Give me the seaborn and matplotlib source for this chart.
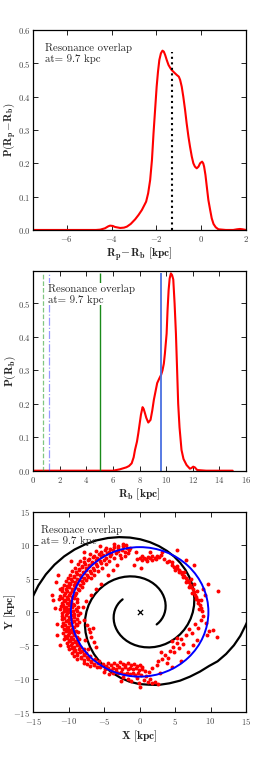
import numpy as np
import pandas as pd
import seaborn as sns
import matplotlib.pyplot as plt
from matplotlib.patches import Circle

# ---- panel 1: P(Rp - Rb) ----
dr_x = [-7.5, -4.7, -4.51, -4.3, -4.15, -4.07, -3.95, -3.85, -3.62, -3.45, -3.32, -3.15,
        -2.95, -2.8, -2.65, -2.46, -2.37, -2.28, -2.2, -2.13, -2.06, -1.99, -1.93, -1.87,
        -1.8, -1.73, -1.67, -1.61, -1.54, -1.46, -1.39, -1.32, -1.2, -1.09, -1.0, -0.94,
        -0.87, -0.80, -0.72, -0.65, -0.57, -0.50, -0.42, -0.35, -0.28, -0.20, -0.12, -0.05,
        0.0, 0.04, 0.09, 0.13, 0.19, 0.25, 0.32, 0.40, 0.47, 0.55, 0.65, 0.77, 1.1, 1.43,
        1.6, 1.73, 1.85, 2.0]
dr_p = [0.0, 0.0, 0.001, 0.005, 0.011, 0.013, 0.012, 0.009, 0.006, 0.007, 0.01, 0.018,
        0.032, 0.045, 0.06, 0.085, 0.11, 0.15, 0.21, 0.29, 0.36, 0.43, 0.475, 0.51,
        0.53, 0.538, 0.535, 0.525, 0.51, 0.495, 0.487, 0.48, 0.472, 0.465, 0.46, 0.45,
        0.43, 0.40, 0.36, 0.32, 0.28, 0.25, 0.22, 0.20, 0.19, 0.185, 0.19, 0.20,
        0.203, 0.205, 0.20, 0.19, 0.165, 0.13, 0.09, 0.06, 0.035, 0.018, 0.008, 0.002,
        0.0, 0.0, 0.002, 0.003, 0.002, 0.0]
dr_mark = -1.32
dr_mark_top = 0.535

# ---- panel 2: P(Rb) ----
rb_x = [0.0, 3.0, 6.0, 6.5, 7.0, 7.2, 7.4, 7.55, 7.65, 7.8, 7.9, 8.0, 8.1, 8.22, 8.3, 8.4,
        8.5, 8.65, 8.82, 8.95, 9.07, 9.2, 9.32, 9.47, 9.62, 9.72, 9.82, 9.9, 10.03, 10.1,
        10.18, 10.26, 10.35, 10.44, 10.53, 10.63, 10.73, 10.82, 10.9, 11.0, 11.15, 11.3,
        11.53, 11.78, 11.9, 12.03, 12.15, 12.33, 13.0, 15.0]
rb_p = [0.0, 0.0, 0.0, 0.004, 0.01, 0.014, 0.022, 0.04, 0.062, 0.087, 0.112, 0.14, 0.168,
        0.19, 0.185, 0.172, 0.158, 0.144, 0.152, 0.18, 0.212, 0.238, 0.262, 0.275, 0.287,
        0.30, 0.32, 0.35, 0.41, 0.48, 0.54, 0.575, 0.59, 0.585, 0.572, 0.5, 0.41, 0.3,
        0.2, 0.13, 0.062, 0.035, 0.017, 0.006, 0.008, 0.012, 0.01, 0.002, 0.0, 0.0]
rb_lines = [0.7, 1.2, 5.0, 9.6]
rb_line_top = 0.592

# ---- panel 3: spiral arms, circle and particles ----
arm1_x = [-2.403, -2.711, -2.987, -3.225, -3.419, -3.561, -3.647, -3.668, -3.624, -3.510,
          -3.321, -3.060, -2.724, -2.316, -1.839, -1.298, -0.697, -0.045, 0.650, 1.377,
          2.124, 2.880, 3.631, 4.362, 5.059, 5.706, 6.287, 6.789, 7.197, 7.496,
          7.674, 7.721, 7.627, 7.385, 6.990, 6.440, 5.733, 4.875, 3.871, 2.731,
          1.467, 0.095, -1.367, -2.897, -4.471, -6.061, -7.641, -9.180, -10.645, -12.006,
          -13.230, -14.286, -15.145, -15.774]
arm1_y = [1.878, 1.597, 1.268, 0.894, 0.481, 0.031, -0.448, -0.949, -1.464, -1.985,
          -2.503, -3.007, -3.487, -3.932, -4.334, -4.679, -4.960, -5.167, -5.290, -5.323,
          -5.258, -5.091, -4.819, -4.440, -3.953, -3.361, -2.669, -1.882, -1.012, -0.065,
          0.943, 1.997, 3.081, 4.178, 5.268, 6.328, 7.338, 8.277, 9.120, 9.848,
          10.440, 10.874, 11.132, 11.200, 11.065, 10.714, 10.140, 9.342, 8.317, 7.072,
          5.616, 3.962, 2.129, 0.137]
arm2_x = [2.403, 2.711, 2.987, 3.225, 3.419, 3.561, 3.647, 3.668, 3.624, 3.510,
          3.321, 3.060, 2.724, 2.316, 1.839, 1.298, 0.697, 0.045, -0.650, -1.377,
          -2.124, -2.880, -3.631, -4.362, -5.059, -5.706, -6.287, -6.789, -7.197, -7.496,
          -7.674, -7.721, -7.627, -7.385, -6.990, -6.440, -5.733, -4.875, -3.871, -2.731,
          -1.467, -0.095, 1.2, 2.6, 4.2, 5.7, 7.1, 8.5, 9.8, 11.0,
          12.2, 13.3, 14.2, 15.0, 15.6]
arm2_y = [-1.878, -1.597, -1.268, -0.894, -0.481, -0.031, 0.448, 0.949, 1.464, 1.985,
          2.503, 3.007, 3.487, 3.932, 4.334, 4.679, 4.960, 5.167, 5.290, 5.323,
          5.258, 5.091, 4.819, 4.440, 3.953, 3.361, 2.669, 1.882, 1.012, 0.065,
          -0.943, -1.997, -3.081, -4.178, -5.268, -6.328, -7.338, -8.277, -9.120, -9.848,
          -10.440, -10.80, -10.9, -10.95, -10.7, -10.3, -9.7, -8.95, -8.1, -7.4,
          -6.3, -5.0, -3.6, -1.9, -0.5]
overlap_r = 9.7

band_left = [
    (-11.0, 3.1), (-10.5, 2.9), (-10.2, 3.2), (-9.8, 2.8), (-9.5, 3.1), (-9.0, 2.9), (-8.6, 3.3),
    (-11.2, 2.4), (-10.7, 2.6), (-10.3, 2.3), (-10.0, 2.5), (-9.6, 2.2), (-9.1, 2.6),
    (-11.4, 1.9), (-10.9, 2.1), (-10.5, 1.8), (-10.1, 2.0), (-9.7, 1.7), (-9.3, 2.1), (-8.8, 1.9),
    (-11.0, 1.4), (-10.6, 1.6), (-10.2, 1.3), (-9.8, 1.5), (-9.4, 1.2), (-8.9, 1.5),
    (-11.1, 0.9), (-10.8, 1.1), (-10.4, 0.8), (-10.0, 1.0), (-9.6, 0.7), (-9.2, 1.0), (-8.7, 0.8),
    (-11.2, 0.4), (-10.7, 0.6), (-10.3, 0.3), (-9.9, 0.5), (-9.4, 0.2), (-9.0, 0.5),
    (-11.0, -0.1), (-10.6, 0.1), (-10.2, -0.2), (-9.8, 0.0), (-9.3, -0.3), (-8.8, 0.1), (-8.4, -0.1),
    (-10.9, -0.6), (-10.4, -0.4), (-10.0, -0.7), (-9.6, -0.5), (-9.2, -0.8), (-8.7, -0.5),
    (-11.0, -1.1), (-10.6, -0.9), (-10.1, -1.2), (-9.7, -1.0), (-9.3, -1.3), (-8.9, -1.0),
    (-10.8, -1.6), (-10.4, -1.4), (-10.0, -1.7), (-9.5, -1.5), (-9.0, -1.8), (-8.6, -1.5),
    (-10.9, -2.1), (-10.5, -1.9), (-10.1, -2.2), (-9.7, -2.0), (-9.2, -2.3), (-8.8, -2.0),
    (-10.7, -2.6), (-10.3, -2.4), (-9.9, -2.7), (-9.5, -2.5), (-9.0, -2.8),
    (-10.8, -3.1), (-10.4, -2.9), (-10.0, -3.2), (-9.6, -3.0), (-9.2, -3.3), (-8.7, -3.0),
    (-10.5, -3.6), (-10.1, -3.4), (-9.7, -3.7), (-9.3, -3.5), (-8.9, -3.8),
    (-10.6, -4.1), (-10.2, -3.9), (-9.8, -4.2), (-9.4, -4.0), (-9.0, -4.3), (-8.5, -4.0),
    (-10.3, -4.6), (-9.9, -4.4), (-9.5, -4.7), (-9.1, -4.5), (-8.7, -4.8),
    (-10.1, -5.1), (-9.7, -4.9), (-9.3, -5.2), (-8.9, -5.0), (-8.4, -5.3),
    (-9.9, -5.6), (-9.5, -5.4), (-9.1, -5.7), (-8.6, -5.5), (-8.2, -5.8), (-7.8, -5.6),
    (-9.6, -6.1), (-9.2, -5.9), (-8.8, -6.2), (-8.4, -6.0), (-7.9, -6.3), (-7.5, -6.1),
    (-9.2, -6.6), (-8.8, -6.4), (-8.3, -6.7), (-7.9, -6.5), (-7.4, -6.8), (-7.0, -6.6),
    (-8.8, -7.1), (-8.3, -6.9), (-7.8, -7.2), (-7.3, -7.0), (-6.8, -7.3), (-6.3, -7.1), (-5.8, -7.4),
    (-7.9, -7.6), (-7.4, -7.8), (-6.9, -7.5), (-6.4, -7.8), (-5.9, -7.6),
    (-7.0, -8.1), (-6.5, -8.0), (-6.0, -8.2),
]
band_top = [
    (-10.9, 3.6), (-10.4, 3.4), (-10.0, 3.7), (-9.6, 3.5), (-9.1, 3.8), (-8.7, 3.5), (-8.2, 3.7),
    (-10.7, 4.1), (-10.2, 3.9), (-9.8, 4.2), (-9.3, 4.0), (-8.9, 4.3), (-8.4, 4.1), (-8.0, 4.3),
    (-10.4, 4.6), (-10.0, 4.4), (-9.5, 4.7), (-9.1, 4.5), (-8.6, 4.8), (-8.1, 4.6), (-7.6, 4.8),
    (-10.1, 5.1), (-9.7, 4.9), (-9.2, 5.2), (-8.8, 5.0), (-8.3, 5.3), (-7.8, 5.1), (-7.3, 5.3), (-6.8, 5.1),
    (-9.8, 5.6), (-9.3, 5.4), (-8.9, 5.7), (-8.4, 5.5), (-7.9, 5.8), (-7.4, 5.6), (-6.9, 5.8), (-6.4, 5.6),
    (-9.5, 6.1), (-9.0, 5.9), (-8.5, 6.2), (-8.0, 6.0), (-7.5, 6.3), (-7.0, 6.1), (-6.5, 6.3), (-5.9, 6.1),
    (-9.1, 6.6), (-8.6, 6.4), (-8.1, 6.7), (-7.6, 6.5), (-7.1, 6.8), (-6.6, 6.6), (-6.0, 6.8), (-5.3, 6.6),
    (-8.7, 7.1), (-8.2, 6.9), (-7.7, 7.2), (-7.2, 7.0), (-6.7, 7.3), (-6.1, 7.1), (-5.5, 7.3), (-4.8, 7.1),
    (-8.4, 7.6), (-7.8, 7.4), (-7.3, 7.7), (-6.7, 7.5), (-6.2, 7.8), (-5.6, 7.6), (-5.0, 7.8), (-4.3, 7.6),
    (-7.8, 8.1), (-7.2, 7.9), (-6.6, 8.2), (-6.0, 8.0), (-5.4, 8.3), (-4.8, 8.1), (-4.2, 8.3), (-3.6, 8.1),
    (-7.0, 8.6), (-6.4, 8.4), (-5.8, 8.7), (-5.2, 8.5), (-4.6, 8.8), (-4.0, 8.6), (-3.3, 8.8), (-2.7, 8.5),
    (-6.1, 9.1), (-5.5, 8.9), (-4.9, 9.2), (-4.3, 9.0), (-3.7, 9.3), (-3.1, 9.1), (-2.5, 9.2), (-2.1, 8.9),
    (-4.8, 9.6), (-4.2, 9.4), (-3.6, 9.7), (-3.0, 9.5), (-2.4, 9.8), (-1.8, 9.5),
    (-3.6, 10.1), (-3.0, 9.9), (-2.4, 10.2), (-1.9, 10.0),
    (-1.5, 9.3), (-1.7, 8.8), (-2.1, 8.4), (-2.6, 8.1), (-1.3, 9.6),
]
sparse_left = [
    (-12.2, 1.8), (-11.2, 3.5), (-11.8, 4.5), (-11.6, -1.8), (-11.5, 5.6), (-9.7, 7.6),
    (-7.8, 8.9), (-5.6, 9.8), (-11.9, 0.6), (-12.3, 2.6), (-11.7, -3.4), (-11.3, -5.0),
    (-7.4, -2.0), (-7.0, -3.0), (-6.8, -3.8), (-6.5, -4.5), (-6.2, -5.2), (-7.2, -2.6),
    (-7.9, -1.2), (-8.0, 0.8), (-7.6, 1.6), (-6.9, 2.5), (-6.2, 3.5), (-5.5, 4.2),
    (-4.5, 5.5), (-3.8, 6.2), (-3.2, 7.0), (-7.7, -4.2), (-6.6, -2.4), (-7.3, -5.6),
]
bottom = [
    (-5.2, -7.8), (-4.8, -8.1), (-4.4, -7.7), (-4.0, -8.0), (-3.6, -7.6), (-3.2, -7.9),
    (-2.8, -7.5), (-2.4, -7.8), (-2.0, -8.0), (-1.6, -7.7), (-1.2, -8.0), (-0.8, -7.8),
    (-0.4, -8.1), (0.0, -7.9), (0.4, -8.2),
    (-4.9, -8.6), (-4.5, -8.4), (-4.1, -8.7), (-3.7, -8.4), (-3.3, -8.6), (-2.9, -8.3),
    (-2.5, -8.5), (-2.1, -8.3), (-1.7, -8.6), (-1.3, -8.4), (-0.9, -8.6), (-0.5, -8.4),
    (-0.1, -8.7), (0.3, -8.5), (0.7, -8.8),
    (-3.8, -9.1), (-3.4, -8.9), (-3.0, -9.2), (-2.6, -9.0), (-2.2, -9.3), (-1.8, -9.1),
    (-1.4, -9.3), (-1.0, -9.1), (-0.6, -9.4), (-0.2, -9.2), (0.2, -9.5),
    (-5.6, -8.3), (-5.0, -9.0), (-4.3, -9.3), (-2.4, -9.8), (-1.6, -10.0), (-0.4, -9.9),
    (0.6, -10.2), (1.2, -10.5), (1.8, -10.7), (2.2, -10.5), (2.6, -10.8), (1.5, -10.0),
    (-0.1, -10.6), (-1.2, -10.4), (0.1, -11.3), (-2.6, -10.3), (0.9, -9.6), (1.3, -9.0),
    (1.7, -8.4), (2.4, -8.0), (2.9, -9.1),
]
right_side = [
    (3.2, -7.0), (3.6, -6.4), (4.0, -6.9), (4.3, -5.8), (4.7, -5.2), (4.9, -6.0),
    (5.2, -4.6), (5.5, -5.4), (5.8, -4.0), (5.3, -3.9), (6.1, -4.8), (4.5, -4.4),
    (3.0, -6.0), (2.6, -7.3), (3.8, -7.6), (6.6, -3.5), (7.0, -2.6), (7.4, -3.2),
    (7.8, -1.8), (8.2, -2.4), (8.6, -1.2), (9.0, -0.6), (8.8, 0.2), (9.3, -1.6),
    (9.8, -2.9), (10.4, -2.7), (10.9, -3.7), (9.5, -3.5), (8.1, -4.2), (7.5, -5.0),
    (6.8, -6.0), (5.9, -7.4), (4.6, -8.3),
    (4.6, 7.0), (4.9, 6.7), (5.2, 6.5), (5.5, 6.3), (5.8, 6.0), (6.0, 5.7), (6.3, 5.4),
    (6.5, 5.1), (6.7, 4.8), (6.9, 4.5), (7.1, 4.1), (7.3, 3.8), (7.5, 3.4), (7.7, 3.0),
    (7.8, 2.6), (8.0, 2.2), (8.2, 1.8), (8.3, 1.4), (8.5, 1.0), (8.6, 0.6),
    (5.0, 6.3), (5.6, 5.9), (6.1, 5.3), (6.6, 4.5), (7.0, 3.7), (7.4, 2.9), (7.9, 1.9),
    (8.4, 0.4), (8.1, 3.2), (6.2, 6.0), (5.3, 6.9), (7.6, 4.2), (8.7, 1.8), (7.2, 5.0),
]
top_side = [
    (-0.4, 7.9), (0.0, 8.0), (0.3, 7.8), (0.6, 8.1), (0.9, 7.9), (1.2, 8.2), (1.5, 8.0),
    (1.8, 8.3), (2.1, 8.1), (2.4, 8.4), (2.7, 8.2), (3.0, 8.5), (0.4, 8.3), (1.0, 7.6),
    (1.7, 7.8), (2.3, 7.9), (3.4, 7.9), (3.8, 7.5), (4.2, 7.6), (4.6, 7.4),
    (5.2, 9.3), (7.6, 7.0), (9.7, 4.2), (11.1, 3.1), (9.2, 2.6), (8.9, 3.4), (6.6, 7.8),
    (3.2, 9.0), (1.4, 9.0), (-0.5, 9.0), (-0.8, 7.0), (0.2, 6.5),
]

label_txt = 'Resonance overlap\nat= 9.7 kpc'
label_txt3 = 'Resonace overlap\nat= 9.7 kpc'

sns.set_style('ticks')
plt.rcParams['font.family'] = 'serif'
plt.rcParams['font.serif'] = ['cmr10', 'DejaVu Serif']
plt.rcParams['mathtext.fontset'] = 'cm'
plt.rcParams['axes.formatter.use_mathtext'] = True
plt.rcParams['axes.unicode_minus'] = True

fig = plt.figure(figsize=(2.73, 7.63), dpi=100)
ax1 = fig.add_axes([0.122, 0.6986, 0.779, 0.2621])
ax2 = fig.add_axes([0.122, 0.3831, 0.779, 0.2621])
ax3 = fig.add_axes([0.122, 0.0668, 0.779, 0.2625])

lab_fs = 8.3
txt_fs = 7.8

# panel 1
sns.lineplot(x=dr_x, y=dr_p, ax=ax1, color='red', lw=1.5, sort=False, estimator=None)
ax1.vlines(dr_mark, 0, dr_mark_top, colors='k', linestyles=':', lw=1.5)
ax1.set_xlim(-7.5, 2)
ax1.set_ylim(0, 0.6)
ax1.set_xticks([-6, -4, -2, 0, 2])
ax1.set_yticks([0.0, 0.1, 0.2, 0.3, 0.4, 0.5, 0.6])
ax1.set_xlabel(r'$\mathbf{R_p\! -\! R_b\ [kpc]}$', fontsize=lab_fs, labelpad=1)
ax1.set_ylabel(r'$\mathbf{P(R_p\! -\! R_b)}$', fontsize=8)
ax1.text(0.055, 0.935, label_txt, transform=ax1.transAxes, fontsize=txt_fs,
         va='top', ha='left', linespacing=1.1)

# panel 2
sns.lineplot(x=rb_x, y=rb_p, ax=ax2, color='red', lw=1.5, sort=False, estimator=None)
ax2.vlines(rb_lines[0], 0, rb_line_top, colors='#2ca02c', linestyles='--', lw=0.9, alpha=0.6)
ax2.vlines(rb_lines[1], 0, rb_line_top, colors='#3333ff', linestyles='-.', lw=0.9, alpha=0.5)
ax2.vlines(rb_lines[2], 0, rb_line_top, colors='#1a8a1a', linestyles='-', lw=1.0)
ax2.vlines(rb_lines[3], 0, rb_line_top, colors='#4a6fe0', linestyles='-', lw=1.3)
ax2.set_xlim(0, 16)
ax2.set_ylim(0, 0.598)
ax2.set_xticks(range(0, 17, 2))
ax2.set_yticks([0.0, 0.1, 0.2, 0.3, 0.4, 0.5])
ax2.set_xlabel(r'$\mathbf{R_b\ [kpc]}$', fontsize=lab_fs, labelpad=1)
ax2.set_ylabel(r'$\mathbf{P(R_b)}$', fontsize=lab_fs)
ax2.text(0.067, 0.935, label_txt, transform=ax2.transAxes, fontsize=txt_fs,
         va='top', ha='left', linespacing=1.1, zorder=5,
         bbox=dict(facecolor='white', edgecolor='none', pad=0.5))

# panel 3
pts = np.array(band_left + band_top + sparse_left + bottom + right_side + top_side)
df = pd.DataFrame({'x': pts[:, 0], 'y': pts[:, 1]})
sns.lineplot(x=arm1_x, y=arm1_y, ax=ax3, color='k', lw=1.6, sort=False, estimator=None)
sns.lineplot(x=arm2_x, y=arm2_y, ax=ax3, color='k', lw=1.6, sort=False, estimator=None)
sns.scatterplot(data=df, x='x', y='y', ax=ax3, color='red', s=8, marker='o',
                linewidth=0, zorder=3)
ax3.add_patch(Circle((0, 0), overlap_r, fill=False, edgecolor='blue', lw=1.4, zorder=4))
ax3.scatter([0], [0], marker='x', color='k', s=14, lw=0.9, zorder=5)
ax3.set_xlim(-15, 15)
ax3.set_ylim(-15, 15)
ax3.set_xticks(range(-15, 16, 5))
ax3.set_yticks(range(-15, 16, 5))
ax3.set_xlabel(r'$\mathbf{X\ [kpc]}$', fontsize=lab_fs, labelpad=1)
ax3.set_ylabel(r'$\mathbf{Y\ [kpc]}$', fontsize=lab_fs)
ax3.text(0.035, 0.935, label_txt3, transform=ax3.transAxes, fontsize=txt_fs,
         va='top', ha='left', linespacing=1.1, zorder=6)

for ax in (ax1, ax2, ax3):
    ax.tick_params(direction='in', top=True, right=True, length=3.5, width=0.6,
                   labelsize=6.3, pad=2, colors='k', labelcolor='#444444')
    ax.tick_params(axis='x', pad=3)
    ax.yaxis.set_label_coords(-0.072, 0.5)
    for sp in ax.spines.values():
        sp.set_linewidth(0.9)
        sp.set_color('k')

fig.savefig('out.png', dpi=100)
